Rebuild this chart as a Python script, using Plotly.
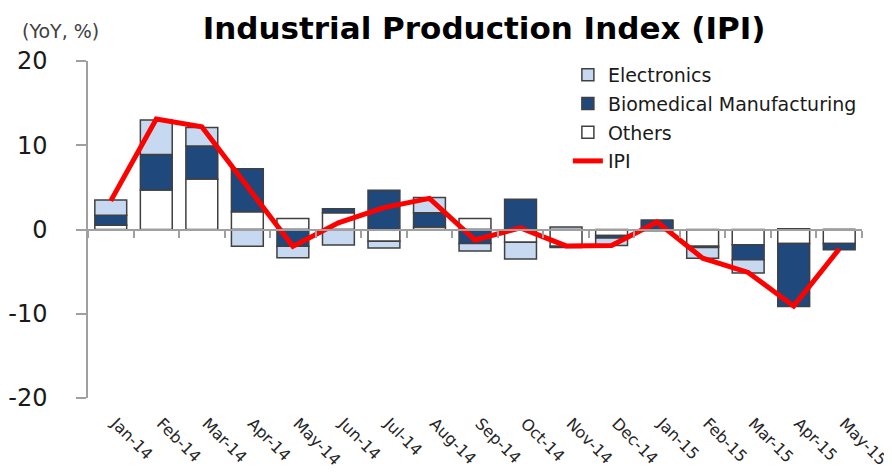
import plotly.graph_objects as go

months = ["Jan-14", "Feb-14", "Mar-14", "Apr-14", "May-14", "Jun-14", "Jul-14", "Aug-14",
          "Sep-14", "Oct-14", "Nov-14", "Dec-14", "Jan-15", "Feb-15", "Mar-15", "Apr-15", "May-15"]
others = [0.5, 4.7, 6.0, 2.1, 1.3, 2.0, -1.4, 0.3, 1.3, -1.5, -2.0, -0.7, -0.15, -2.0, -1.8, -1.65, -1.65]
biomedical = [1.2, 4.2, 3.9, 5.1, -2.0, 0.45, 4.65, 1.7, -1.65, 3.6, -0.15, -0.3, 1.1, -0.15, -1.8, -7.5, -0.75]
electronics = [1.8, 4.1, 2.2, -2.0, -1.35, -1.85, -0.8, 1.8, -0.9, -2.0, 0.3, -0.9, 0.0, -1.25, -1.55, 0.1, 0.0]
ipi = [3.4, 13.1, 12.2, 5.2, -2.0, 0.8, 2.6, 3.7, -1.25, 0.2, -1.95, -1.9, 0.9, -3.4, -5.1, -9.1, -2.3]
y_ticks = [-20, -10, 0, 10, 20]
y_tick_labels = ["-20", "-10", "0", "10", "20"]

FONT = "DejaVu Sans"
EDGE = "#404040"
AXIS = "#A0A0A0"

fig = go.Figure()
fig.add_trace(go.Bar(x=months, y=others, name="Others", legendrank=3, legendgroup="c",
                     marker=dict(color="#FFFFFF", line=dict(color=EDGE, width=1.5))))
fig.add_trace(go.Bar(x=months, y=biomedical, name="Biomedical Manufacturing", legendrank=2, legendgroup="b",
                     marker=dict(color="#1F497D", line=dict(color=EDGE, width=1.5))))
fig.add_trace(go.Bar(x=months, y=electronics, name="Electronics", legendrank=1, legendgroup="a",
                     marker=dict(color="#C6D9F1", line=dict(color=EDGE, width=1.5))))
fig.add_trace(go.Scatter(x=months, y=ipi, name="IPI", mode="lines", legendrank=4, legendgroup="d",
                         line=dict(color="#FF0000", width=5)))
# helper trace for the zero-line category axis
fig.add_trace(go.Scatter(x=[-0.5, len(months) - 0.5], y=[0, 0], xaxis="x2", yaxis="y",
                         mode="lines", line=dict(width=0), showlegend=False, hoverinfo="skip"))

# the page body adds an 8px offset, so the figure is 8px smaller than the window
fig.update_layout(
    width=884, height=466,
    margin=dict(l=80, r=30, t=53, b=76, autoexpand=False),
    plot_bgcolor="white", paper_bgcolor="white",
    barmode="relative", bargap=0.3,
    font=dict(family=FONT, color="#1a1a1a"),
    title=dict(text="<b>Industrial Production Index (IPI)</b>", x=0.5385, xanchor="center",
               y=0.957, yanchor="middle", font=dict(family=FONT, size=31, color="#000000")),
    legend=dict(x=0.62, y=1.015, xanchor="left", yanchor="top", bgcolor="rgba(0,0,0,0)",
                font=dict(family=FONT, size=19, color="#1a1a1a"), tracegroupgap=1),
    xaxis=dict(type="category", range=[-0.5, len(months) - 0.5], showline=False, ticks="",
               showgrid=False, zeroline=False, tickangle=45, ticklabelstandoff=12,
               ticklabelshift=5, automargin=False,
               tickfont=dict(family=FONT, size=16, color="#262626")),
    xaxis2=dict(overlaying="x", anchor="free", position=0.5, range=[-0.5, len(months) - 0.5],
                tickmode="array", tickvals=[i - 0.5 for i in range(len(months) + 1)],
                ticks="outside", ticklen=7, tickcolor=AXIS, tickwidth=1.5, automargin=False,
                showline=True, linecolor=AXIS, linewidth=2, showticklabels=False,
                showgrid=False, zeroline=False),
    yaxis=dict(range=[-20, 20], domain=[0, 1], tickmode="array", tickvals=y_ticks,
               ticktext=y_tick_labels, automargin=False,
               ticks="outside", ticklen=10, tickcolor=AXIS, tickwidth=1.5,
               showline=True, linecolor=AXIS, linewidth=1.5, showgrid=False, zeroline=False,
               ticklabelstandoff=24, tickfont=dict(family=FONT, size=24, color="#1a1a1a")),
    annotations=[dict(text="(YoY, %)", xref="paper", yref="paper", x=-0.035, y=1.09,
                      xanchor="center", yanchor="middle", showarrow=False,
                      font=dict(family=FONT, size=19, color="#404040"))],
)

fig.write_html("out.html")
